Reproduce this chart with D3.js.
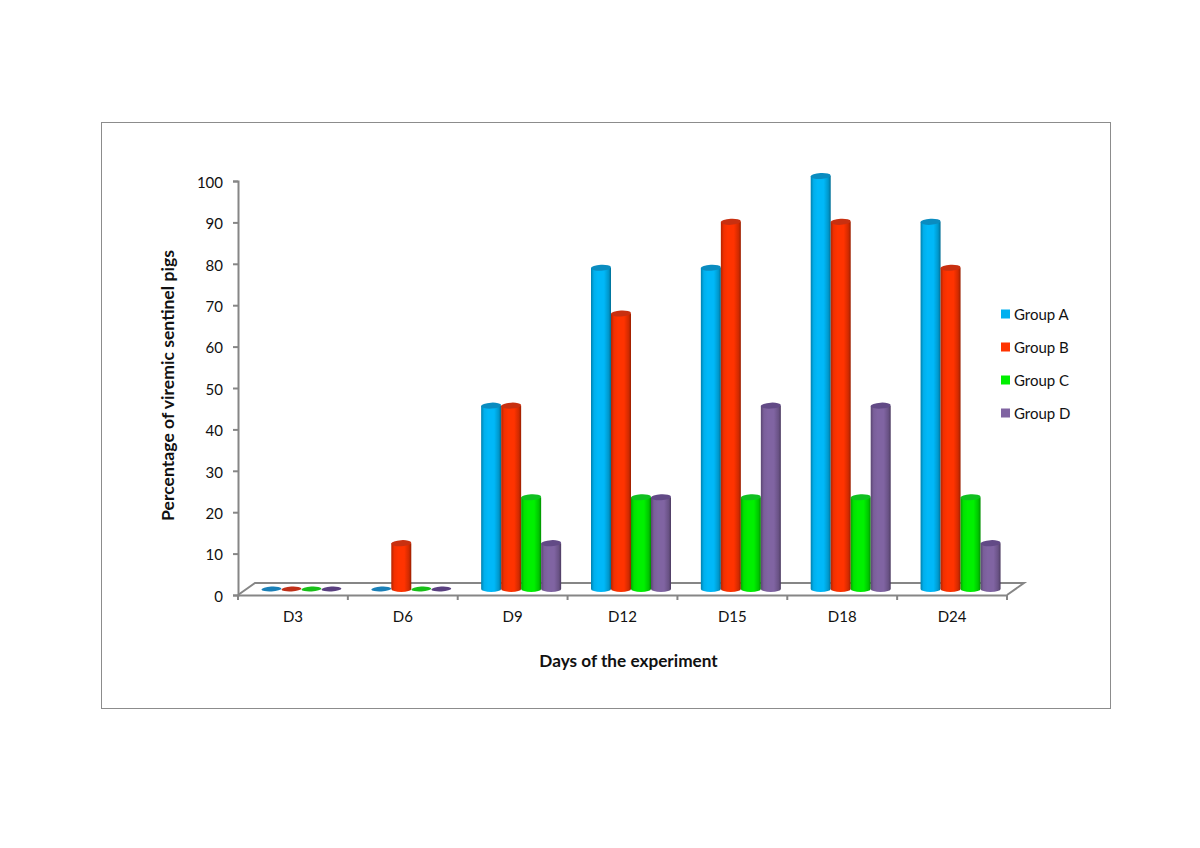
<!DOCTYPE html>
<html><head><meta charset="utf-8">
<script src="https://cdn.jsdelivr.net/npm/d3@7"></script>
<style>html,body{margin:0;padding:0;background:#fff}svg{display:block}text{font-family:Lato,"Open Sans",sans-serif;fill:#111}</style>
</head><body><div id="c"></div>
<script>
const days = ["D3","D6","D9","D12","D15","D18","D24"];
const groups = ["Group A","Group B","Group C","Group D"];
const groupA = [0,0,44.4,77.8,77.8,100,88.9];
const groupB = [0,11.1,44.4,66.7,88.9,88.9,77.8];
const groupC = [0,0,22.2,22.2,22.2,22.2,22.2];
const groupD = [0,0,11.1,22.2,44.4,44.4,11.1];
const yTicks = d3.range(0,101,10);
const xTitle = "Days of the experiment";
const yTitle = "Percentage of viremic sentinel pigs";
const base = ["#00b8f8","#ff3300","#00f000","#8064a2"];
const legendCol = ["#00b0f0","#ff3300","#00f000","#8064a2"];
const dark = ["#0a8cc0","#c83010","#10c020","#624a86"];
const flat = ["#1a80b8","#c03018","#18c018","#5a4080"];
const seriesVals = [groupA,groupB,groupC,groupD];

const W=1200,H=848;
const svg=d3.select("#c").append("svg").attr("width",W).attr("height",H);
const defs=svg.append("defs");
base.forEach((c,i)=>{
  const g=defs.append("linearGradient").attr("id","g"+i);
  [[0,0.7],[0.15,0.95],[0.35,1],[0.65,1],[0.88,0.82],[1,0.6]].forEach(([o,k])=>{
    const col=d3.rgb(c);
    g.append("stop").attr("offset",o).attr("stop-color",d3.rgb(col.r*k,col.g*k,col.b*k).formatHex());
  });
});
svg.append("rect").attr("x",101.5).attr("y",122.5).attr("width",1009).attr("height",586)
  .attr("fill","#fff").attr("stroke","#8c8c8c").attr("stroke-width",1);

const x=d3.scaleBand().domain(days).range([238,1007]);
const y=d3.scaleLinear().domain([0,100]).range([595,181]);
const barY=d3.scaleLinear().domain([0,100]).range([589,176]);
const depthX=17, depthY=12;
const axisCol="#868686";

const x0=x.range()[0],x1=x.range()[1],y0=y(0);
svg.append("path").attr("fill","none").attr("stroke",axisCol).attr("stroke-width",2)
  .attr("d",d3.line()([[x0,y0],[x0+depthX,y0-depthY],[x1+depthX,y0-depthY],[x1,y0]]));

const ay=svg.append("g").attr("transform",`translate(${x0},0)`)
  .call(d3.axisLeft(y).tickValues(yTicks).tickSize(5).tickPadding(10));
ay.selectAll("path,line").attr("stroke",axisCol).attr("stroke-width",2);
ay.selectAll("text").attr("font-size",15).attr("dy","0.42em").style("font-family","Lato,sans-serif").attr("fill","#111");

const ax=svg.append("g").attr("transform",`translate(0,${y0})`)
  .call(d3.axisBottom(x).tickSize(0).tickPadding(16));
ax.select("path").attr("stroke",axisCol).attr("stroke-width",2);
ax.selectAll("text").attr("font-size",15).style("font-family","Lato,sans-serif").attr("fill","#111");
svg.append("g").selectAll("line").data(d3.range(days.length+1)).join("line")
  .attr("x1",i=>x0+i*x.step()).attr("x2",i=>x0+i*x.step())
  .attr("y1",y0).attr("y2",y0+5).attr("stroke",axisCol).attr("stroke-width",2);

const offX=8.5, barW=20, ry=3;
const inner=d3.scaleBand().domain(d3.range(groups.length)).range([-40,40]);
seriesVals.forEach((vals,s)=>{
  const g=svg.append("g");
  vals.forEach((v,i)=>{
    const cx=x(days[i])+x.bandwidth()/2+offX+inner(s)+inner.bandwidth()/2;
    const rx=barW/2;
    const yb=barY(0), yt=barY(v);
    if(v>0){
      g.append("path").attr("fill",`url(#g${s})`)
       .attr("d",`M${cx-rx},${yt}L${cx-rx},${yb}A${rx},${ry} 0 0 0 ${cx+rx},${yb}L${cx+rx},${yt}Z`);
      g.append("ellipse").attr("cx",cx).attr("cy",yt).attr("rx",rx).attr("ry",ry)
        .attr("fill",dark[s]).attr("transform",`rotate(-3 ${cx} ${yt})`);
    } else {
      g.append("ellipse").attr("cx",cx).attr("cy",yt).attr("rx",rx).attr("ry",2.4)
        .attr("fill",flat[s]).attr("transform",`rotate(-3 ${cx} ${yt})`);
    }
  });
});

svg.append("text").attr("x",628.5).attr("y",667).attr("text-anchor","middle")
  .attr("font-size",17.2).attr("font-weight",700).text(xTitle);
svg.append("text").attr("transform","translate(174,385.5) rotate(-90)").attr("text-anchor","middle")
  .attr("font-size",17.6).attr("font-weight",700).text(yTitle);

const ly=d3.scalePoint().domain(groups).range([314,413]);
const leg=svg.append("g").selectAll("g").data(groups).join("g")
  .attr("transform",d=>`translate(1001,${ly(d)})`);
leg.append("rect").attr("x",0).attr("y",-4.5).attr("width",9).attr("height",9)
  .attr("fill",(d,i)=>legendCol[i]);
leg.append("text").attr("x",13).attr("y",5.5).attr("font-size",15).text(d=>d);
</script></body></html>
